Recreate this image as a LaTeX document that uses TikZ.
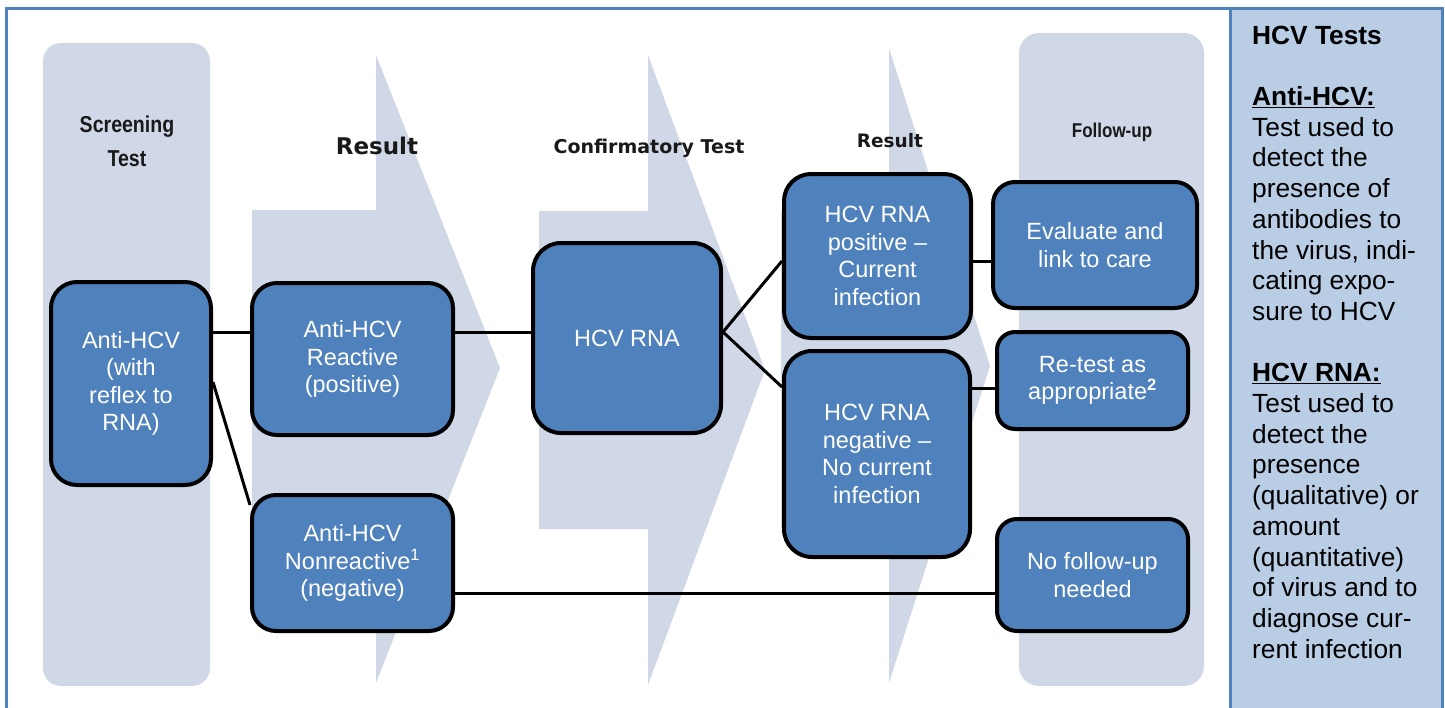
\documentclass[tikz,border=0pt]{standalone}
\usepackage{fontspec}
\setmainfont{Liberation Sans}
\newfontfamily\hdrfont{DejaVu Sans}
\newfontfamily\narrowfont[FakeStretch=0.85]{Liberation Sans}
\definecolor{bgshape}{RGB}{208,216,232}
\definecolor{nodeblue}{RGB}{79,129,189}
\definecolor{panelblue}{RGB}{185,205,229}
\definecolor{frameblue}{RGB}{79,129,189}
\tikzset{
  stepbox/.style={draw=black, line width=4pt, fill=nodeblue, text=white, align=center, inner sep=0pt,
    font=\fontsize{23.5}{27.5}\selectfont},
  link/.style={draw=black, line width=3pt},
  bgfill/.style={fill=bgshape, draw=none},
  stagelabel/.style={font=\hdrfont\bfseries, text=black!90, inner sep=0pt},
  narrowlabel/.style={font=\narrowfont\bfseries, text=black!90, inner sep=0pt, align=center},
}
\begin{document}
\begin{tikzpicture}[x=1pt,y=-1pt]
\useasboundingbox (0,0) rectangle (1445,707);
% right panel
\fill[panelblue] (1230,8) rectangle (1442,712);
\draw[frameblue, line width=3pt] (6,712) -- (6,8) -- (1442,8) -- (1442,712);
\draw[frameblue, line width=3pt] (1230,8) -- (1230,712);
% background stage shapes
\fill[bgfill, rounded corners=18pt] (43,43) rectangle (210,686);
\fill[bgfill] (252,210) -- (376,210) -- (376,55) -- (500,368) -- (376,683) -- (376,527) -- (252,527) -- cycle;
\fill[bgfill] (539,211) -- (648,211) -- (648,55) -- (765,370) -- (648,685) -- (648,529) -- (539,529) -- cycle;
\fill[bgfill] (781,211) -- (889,211) -- (889,48) -- (990,366) -- (889,683) -- (889,528) -- (781,528) -- cycle;
\fill[bgfill, rounded corners=20pt] (1019,33) rectangle (1204,686);
% stage labels
\node[narrowlabel, font=\narrowfont\bfseries\fontsize{23}{34}\selectfont] (lscreen) at (127,141) {Screening\\Test};
\node[stagelabel, font=\hdrfont\bfseries\fontsize{23}{27}\selectfont] (lres1) at (377,146) {Result};
\node[stagelabel, font=\hdrfont\bfseries\fontsize{19}{23}\selectfont] (lconf) at (649,148) {Confirmatory Test};
\node[stagelabel, font=\hdrfont\bfseries\fontsize{18.5}{22}\selectfont] (lres2) at (890,141) {Result};
\node[narrowlabel, font=\narrowfont\bfseries\fontsize{20}{24}\selectfont] (lfollow) at (1112,132) {Follow-up};
% nodes
\node[stepbox, minimum width=160pt, minimum height=203pt, rounded corners=26pt] (n1) at (131,383.5) {Anti-HCV\\(with\\reflex to\\RNA)};
\node[stepbox, minimum width=201pt, minimum height=152pt, rounded corners=25pt] (n2) at (352.5,359) {Anti-HCV\\Reactive\\(positive)};
\node[stepbox, minimum width=201pt, minimum height=136pt, rounded corners=24pt] (n3) at (352.5,563) {Anti-HCV\\Nonreactive\textsuperscript{1}\\(negative)};
\node[stepbox, minimum width=188pt, minimum height=190pt, rounded corners=28pt] (hcv) at (627,338) {HCV RNA};
\node[stepbox, minimum width=187pt, minimum height=164pt, rounded corners=27pt] (pos) at (877.5,256) {HCV RNA\\positive --\\Current\\infection};
\node[stepbox, minimum width=186pt, minimum height=206pt, rounded corners=28pt] (neg) at (877,454) {HCV RNA\\negative --\\No current\\infection};
\node[stepbox, minimum width=204pt, minimum height=126pt, rounded corners=22pt] (eval) at (1095,245) {Evaluate and\\link to care};
\node[stepbox, minimum width=191pt, minimum height=97pt, rounded corners=18pt] (retest) at (1092.5,380.5) {Re-test as\\appropriate\textsuperscript{\textbf{2}}};
\node[stepbox, minimum width=191pt, minimum height=112pt, rounded corners=20pt] (nofu) at (1092.5,575) {No follow-up\\needed};
% connectors
\draw[link] (n1.east |- 0,332) -- (n2.west |- 0,332);
\draw[link] (n2.east |- 0,332) -- (hcv.west |- 0,332);
\draw[link] (n1.east |- 0,382) -- (n3.west |- 0,505);
\draw[link] (hcv.east |- 0,332) -- (pos.west |- 0,261);
\draw[link] (hcv.east |- 0,332) -- (neg.west |- 0,387);
\draw[link] (pos.east |- 0,261) -- (eval.west |- 0,261);
\draw[link] (neg.east |- 0,388) -- (retest.west |- 0,388);
\draw[link] (n3.east |- 0,593) -- (nofu.west |- 0,593);
% panel text
\node[anchor=north west, align=left, inner sep=0pt, font=\fontsize{26.3}{30.7}\selectfont] (panel) at (1252,25.6)
{\textbf{HCV Tests}\\[30.7pt]
\textbf{\underline{Anti-HCV:}}\\
Test used to\\
detect the\\
presence of\\
antibodies to\\
the virus, indi-\\
cating expo-\\
sure to HCV\\[30.7pt]
\textbf{\underline{HCV RNA:}}\\
Test used to\\
detect the\\
presence\\
(qualitative) or\\
amount\\
(quantitative)\\
of virus and to\\
diagnose cur-\\
rent infection};
\end{tikzpicture}
\end{document}
